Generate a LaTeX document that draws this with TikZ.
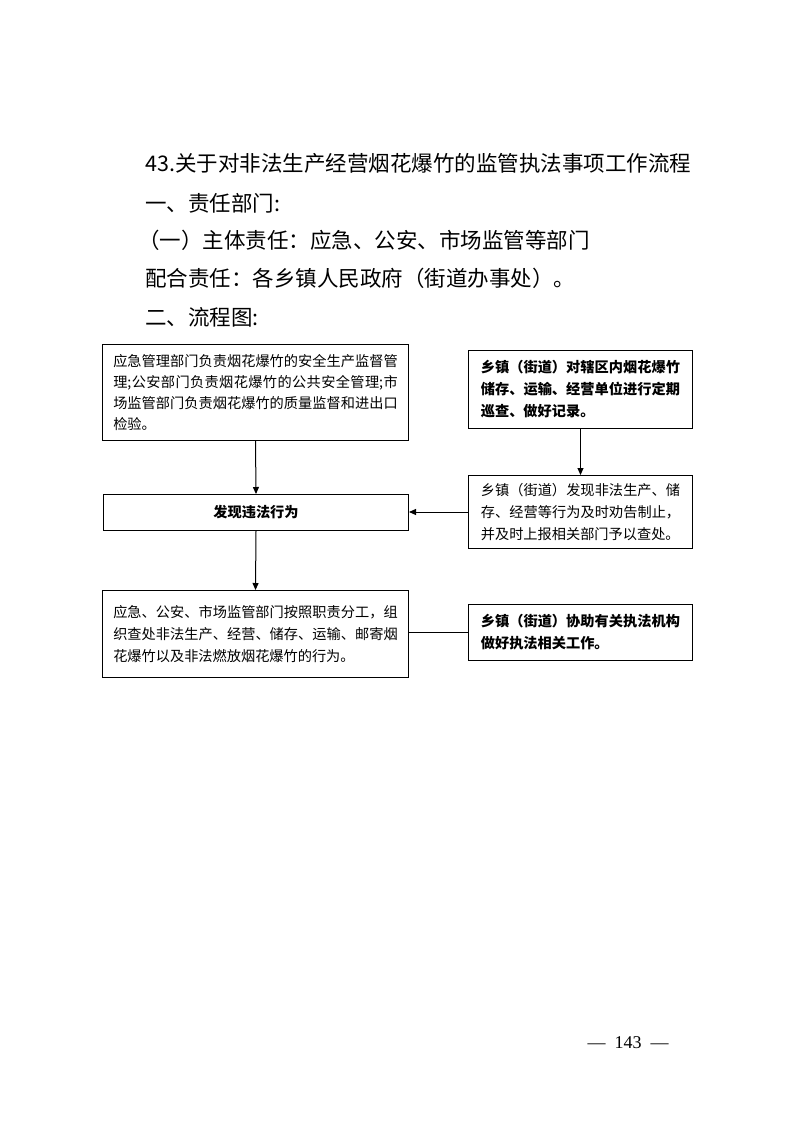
\documentclass[tikz,border=0pt]{standalone}
\usepackage{fontspec}
\setmainfont{Noto Sans CJK SC}
\newfontfamily\pnumfont{Liberation Serif}
\usetikzlibrary{arrows.meta}
\XeTeXlinebreaklocale "zh"
\XeTeXlinebreakskip=0pt plus 1pt
\begin{document}
\begin{tikzpicture}[x=1pt,y=-1pt,
  box/.style={draw, line width=1pt, anchor=north west, align=justify,
    font=\fontsize{14.2}{22}\selectfont, inner ysep=2pt},
  widebox/.style={box, text width=284.5pt, inner xsep=10.75pt},
  narrowbox/.style={box, text width=199.3pt, inner xsep=12.35pt},
  head/.style={anchor=base west, inner sep=0pt, font=\fontsize{21.5}{24}\selectfont},
  arr/.style={line width=1pt, -{Triangle[length=7pt,width=6pt]}},
  link/.style={line width=0.8pt}]
\useasboundingbox (0,0) rectangle (793,1122);

\node[head] (t1) at (145,171) {43.关于对非法生产经营烟花爆竹的监管执法事项工作流程};
\node[head] (t2) at (145,211) {一、责任部门:};
\node[head] (t3) at (138,248) {（一）主体责任：应急、公安、市场监管等部门};
\node[head] (t4) at (145,286) {配合责任：各乡镇人民政府（街道办事处）。};
\node[head] (t5) at (145,325) {二、流程图:};

\node[widebox, minimum height=96pt, font=\fontsize{14.2}{21}\selectfont] (A) at (102,344)
  {应急管理部门负责烟花爆竹的安全生产监督管理;公安部门负责烟花爆竹的公共安全管理;市场监管部门负责烟花爆竹的质量监督和进出口检验。};
\node[narrowbox, minimum height=78pt] (B) at (468,350)
  {\bfseries 乡镇（街道）对辖区内烟花爆竹储存、运输、经营单位进行定期巡查、做好记录。};
\node[box, minimum width=305pt, minimum height=36pt, align=center] (C) at (103,494)
  {\bfseries 发现违法行为};
\node[narrowbox, minimum height=73pt] (D) at (468,475)
  {乡镇（街道）发现非法生产、储存、经营等行为及时劝告制止，并及时上报相关部门予以查处。};
\node[widebox, minimum height=87pt] (E) at (102,590)
  {应急、公安、市场监管部门按照职责分工，组织查处非法生产、经营、储存、运输、邮寄烟花爆竹以及非法燃放烟花爆竹的行为。};
\node[narrowbox, minimum height=56pt] (F) at (468,604)
  {\bfseries 乡镇（街道）协助有关执法机构做好执法相关工作。};

\draw[arr] (A.south) -- (C.north);
\draw[arr] (B.south) -- (D.north);
\draw[arr] (D.west) -- (D.west -| C.east);
\draw[arr] (C.south) -- (E.north);
\draw[link] (F.west) -- (F.west -| E.east);

\node[anchor=base, inner sep=0pt, font=\pnumfont\fontsize{18}{20}\selectfont] (pg) at (628,1048) {—\hspace{9pt}143\hspace{9pt}—};
\end{tikzpicture}
\end{document}
